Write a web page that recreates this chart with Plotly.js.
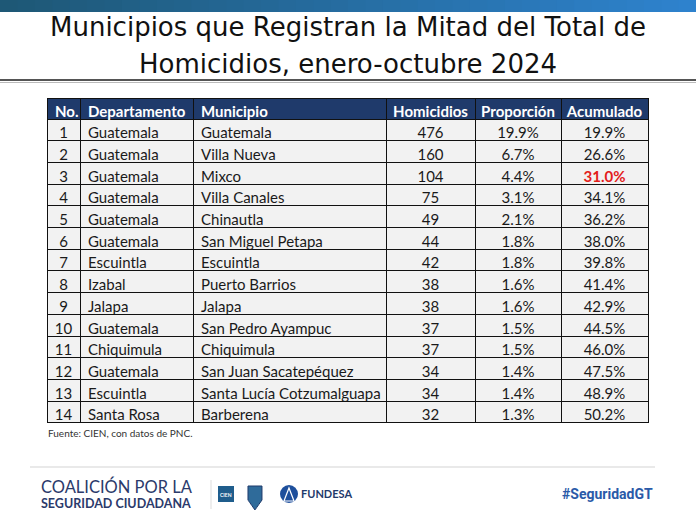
<!DOCTYPE html>
<html>
<head>
<meta charset="utf-8">
<script src="https://cdn.plot.ly/plotly-3.0.1.min.js"></script>
<style>html,body{margin:0;padding:0;background:#fff;}#chart{width:696px;height:511px;}</style>
</head>
<body>
<div id="chart"></div>
<script>
const headers = ["No.", "Departamento", "Municipio", "Homicidios", "Proporción", "Acumulado"];
const numero = [1,2,3,4,5,6,7,8,9,10,11,12,13,14];
const departamento = ["Guatemala","Guatemala","Guatemala","Guatemala","Guatemala","Guatemala","Escuintla","Izabal","Jalapa","Guatemala","Chiquimula","Guatemala","Escuintla","Santa Rosa"];
const municipio = ["Guatemala","Villa Nueva","Mixco","Villa Canales","Chinautla","San Miguel Petapa","Escuintla","Puerto Barrios","Jalapa","San Pedro Ayampuc","Chiquimula","San Juan Sacatepéquez","Santa Lucía Cotzumalguapa","Barberena"];
const homicidios = [476,160,104,75,49,44,42,38,38,37,37,34,34,32];
const proporcion = ["19.9%","6.7%","4.4%","3.1%","2.1%","1.8%","1.8%","1.6%","1.6%","1.5%","1.5%","1.4%","1.4%","1.3%"];
const acumulado = ["19.9%","26.6%","31.0%","34.1%","36.2%","38.0%","39.8%","41.4%","42.9%","44.5%","46.0%","47.5%","48.9%","50.2%"];
const highlightRow = 2;

const W = 696, H = 511;
const tableLeft = 47, tableRight = 648, tableTop = 98;
const fontCell = "Lato, 'Open Sans', sans-serif";

// keep names on one line (non-breaking spaces)
const nb = s => String(s).replace(/ /g, "\u00a0");
const acumColor = acumulado.map((v,i) => i === highlightRow ? "#e3201b" : "#1a1a1a");
const acumWeight = acumulado.map((v,i) => i === highlightRow ? "bold" : "normal");

const table = {
  type: "table",
  domain: {x: [tableLeft/W, tableRight/W], y: [0.05, 1 - tableTop/H]},
  columnwidth: [33, 113, 193, 89, 86, 87],
  header: {
    values: headers,
    align: ["left","left","left","center","center","center"],
    fill: {color: "#1f3a6b"},
    line: {color: "#111", width: 1},
    font: {family: fontCell, size: 15, color: "#ffffff", weight: "bold"},
    height: 21
  },
  cells: {
    values: [numero, departamento.map(nb), municipio.map(nb), homicidios, proporcion, acumulado],
    align: ["center","left","left","center","center","center"],
    fill: {color: "#f2f2f2"},
    line: {color: "#111", width: 1},
    font: {family: fontCell, size: 15,
           color: ["#1a1a1a","#1a1a1a","#1a1a1a","#1a1a1a","#1a1a1a", acumColor],
           weight: ["normal","normal","normal","normal","normal", acumWeight]},
    height: 21.7
  }
};

// top gradient bar (decorative)
const shapes = [];
const steps = 40;
const c0 = [30, 88, 118], c1 = [46, 130, 205];
for (let i = 0; i < steps; i++) {
  const t = i/(steps-1);
  const c = c0.map((v,k) => Math.round(v + (c1[k]-v)*t));
  shapes.push({type:"rect", xref:"paper", yref:"paper", x0:i/steps, x1:(i+1)/steps+0.002, y0:1-12/H, y1:1,
    line:{width:0}, fillcolor:"rgb("+c.join(",")+")"});
}
shapes.push({type:"line", xref:"paper", yref:"paper", x0:0, x1:1, y0:1-80/H, y1:1-80/H, line:{color:"#555", width:2}});
shapes.push({type:"line", xref:"paper", yref:"paper", x0:0, x1:1, y0:1-82.5/H, y1:1-82.5/H, line:{color:"#bbb", width:1}});
// footer rule
shapes.push({type:"line", xref:"paper", yref:"paper", x0:30/W, x1:655/W, y0:1-467/H, y1:1-467/H, line:{color:"#e2e2e2", width:1.5}});
// footer separator
shapes.push({type:"line", xref:"paper", yref:"paper", x0:211/W, x1:211/W, y0:1-480/H, y1:1-509/H, line:{color:"#ddd", width:1}});
// CIEN logo block
shapes.push({type:"rect", xref:"paper", yref:"paper", x0:218/W, x1:234/W, y0:1-502/H, y1:1-486/H, line:{width:0}, fillcolor:"#1f5d8c"});
// shield
shapes.push({type:"path", xref:"paper", yref:"paper",
  path:"M 0.3563 0.0489 L 0.3764 0.0489 L 0.3764 0.0215 Q 0.3663 0.0020 0.3663 0.0020 Q 0.3563 0.0215 0.3563 0.0215 Z",
  line:{color:"#1f3a6b", width:1}, fillcolor:"#2f6b9a"});
// FUNDESA mark
shapes.push({type:"circle", xref:"paper", yref:"paper", x0:280/W, x1:298/W, y0:1-503/H, y1:1-485/H, line:{width:0}, fillcolor:"#1e4f9c"});
shapes.push({type:"path", xref:"paper", yref:"paper",
  path:"M 0.4080 0.0196 L 0.4152 0.0450 L 0.4224 0.0196 Z", line:{color:"#fff", width:1.2}, fillcolor:"rgba(0,0,0,0)"});

const annotations = [
  {text:"Municipios que Registran la Mitad del Total de", x:0.5, y:1-27/H, xref:"paper", yref:"paper", showarrow:false,
   font:{family:"'DejaVu Sans', sans-serif", size:26, color:"#111"}, xanchor:"center", yanchor:"middle"},
  {text:"Homicidios, enero-octubre 2024", x:0.5, y:1-64/H, xref:"paper", yref:"paper", showarrow:false,
   font:{family:"'DejaVu Sans', sans-serif", size:26, color:"#111"}, xanchor:"center", yanchor:"middle"},
  {text:"Fuente: CIEN, con datos de PNC.", x:46/W, y:1-433/H, xref:"paper", yref:"paper", showarrow:false,
   font:{family:fontCell, size:10, color:"#333"}, xanchor:"left", yanchor:"middle"},
  {text:"<span style='font-size:16.5px'>COALICIÓN POR LA</span><br><span style='font-size:12.5px'><b>SEGURIDAD CIUDADANA</b></span>",
   x:40/W, y:1-493/H, xref:"paper", yref:"paper", showarrow:false, align:"left", borderpad:0,
   font:{family:"Lato, sans-serif", size:11.6, color:"#2b3a6b"}, xanchor:"left", yanchor:"middle"},
  {text:"CIEN", x:226/W, y:1-495/H, xref:"paper", yref:"paper", showarrow:false,
   font:{family:"Lato, sans-serif", size:5, color:"#fff", weight:"bold"}, xanchor:"center", yanchor:"middle"},
  {text:"FUNDESA", x:299/W, y:1-493/H, xref:"paper", yref:"paper", showarrow:false,
   font:{family:"Lato, sans-serif", size:11, color:"#1f3a6b", weight:"bold"}, xanchor:"left", yanchor:"middle"},
  {text:"#SeguridadGT", x:655/W, y:1-494/H, xref:"paper", yref:"paper", showarrow:false,
   font:{family:"'Roboto', sans-serif", size:14, color:"#2a5aa8", weight:"bold"}, xanchor:"right", yanchor:"middle"}
];

const layout = {
  width: W, height: H,
  margin: {l:0, r:0, t:0, b:0},
  paper_bgcolor: "#ffffff",
  shapes: shapes,
  annotations: annotations,
  showlegend: false
};

Plotly.newPlot("chart", [table], layout, {displayModeBar:false, staticPlot:true});
</script>
</body>
</html>
